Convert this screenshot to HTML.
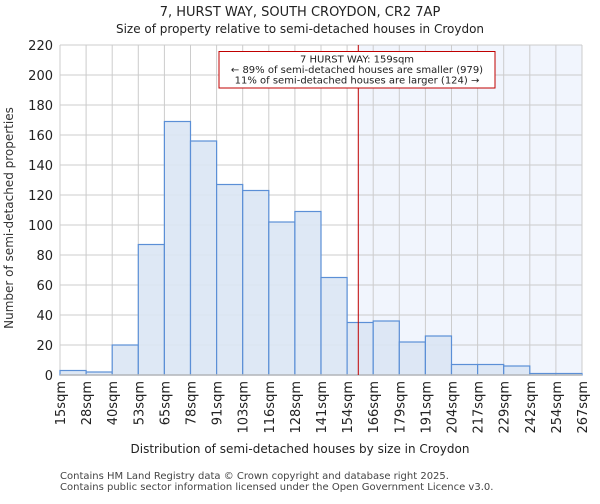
<!DOCTYPE html>
<html><head><meta charset="utf-8"><style>
body{margin:0;background:#fff;font-family:"DejaVu Sans","Liberation Sans",sans-serif;}
</style></head><body>
<svg id="c" width="600" height="500" xmlns="http://www.w3.org/2000/svg" font-family="DejaVu Sans, Liberation Sans, sans-serif">
<text x="300" y="16" text-anchor="middle" font-size="13" fill="#222">7, HURST WAY, SOUTH CROYDON, CR2 7AP</text>
<text x="300" y="33" text-anchor="middle" font-size="12" fill="#222">Size of property relative to semi-detached houses in Croydon</text>
<g id="g"></g>
<text x="300" y="453" text-anchor="middle" font-size="12" fill="#222">Distribution of semi-detached houses by size in Croydon</text>
<text transform="translate(13,218) rotate(-90)" text-anchor="middle" font-size="12" fill="#333">Number of semi-detached properties</text>
<text x="60" y="479" font-size="10" fill="#444">Contains HM Land Registry data © Crown copyright and database right 2025.</text>
<text x="60" y="490" font-size="10" fill="#444">Contains public sector information licensed under the Open Government Licence v3.0.</text>
</svg>
<script>
const categories=["15sqm","28sqm","40sqm","53sqm","65sqm","78sqm","91sqm","103sqm","116sqm","128sqm","141sqm","154sqm","166sqm","179sqm","191sqm","204sqm","217sqm","229sqm","242sqm","254sqm","267sqm"];
const values=[3,2,20,87,169,156,127,123,102,109,65,35,36,22,26,7,7,6,1,1];
const yTicks=[0,20,40,60,80,100,120,140,160,180,200,220];
const marker=159;
const edges=[15,27.6,40.2,52.8,65.4,78,90.6,103.2,115.8,128.4,141,153.6,166.2,178.8,191.4,204,216.6,229.2,241.8,254.4,267];
const X0=60,X1=582,Y0=375,Y1=45,YMAX=220;
const n=values.length,bw=(X1-X0)/n;
const xb=i=>X0+i*bw;
const y=v=>Y0-(v/YMAX)*(Y0-Y1);
const xv=v=>{for(let i=0;i<n;i++){if(v<=edges[i+1])return xb(i)+(v-edges[i])/(edges[i+1]-edges[i])*bw;}return X1;};
const g=document.getElementById('g');const NS="http://www.w3.org/2000/svg";
function mk(t,a){const e=document.createElementNS(NS,t);for(const k in a)e.setAttribute(k,a[k]);g.appendChild(e);return e;}
const mx=xv(marker);
let e=mk('rect',{x:mx,y:Y1,width:X1-mx,height:Y0-Y1,fill:'#f1f5fd'});


yTicks.forEach(t=>{let l=mk('line',{x1:X0,x2:X1,y1:y(t),y2:y(t),stroke:'#cccccc','stroke-width':1});


let tx=mk('text',{x:X0-7,y:y(t)+5,'text-anchor':'end','font-size':13,fill:'#222'});tx.textContent=t;

});
categories.forEach((c,i)=>{const x=xb(i);let l=mk('line',{x1:x,x2:x,y1:Y1,y2:Y0,stroke:'#cccccc','stroke-width':1});


let tx=mk('text',{transform:`translate(${x+5},381) rotate(-90)`,'text-anchor':'end','font-size':13,fill:'#222'});tx.textContent=c;

});
values.forEach((v,i)=>{let r=mk('rect',{x:xb(i),y:y(v),width:bw,height:Y0-y(v),fill:'#dae5f4',stroke:'#5b8fd6','stroke-width':1.2,'fill-opacity':0.9});

});
let ax=mk('line',{x1:X0,x2:X1,y1:Y0,y2:Y0,stroke:'#bbb','stroke-width':1.5});


let ml=mk('line',{x1:mx,x2:mx,y1:Y1,y2:Y0,stroke:'#c00000','stroke-width':1});


let bx=mk('rect',{x:219,y:51.5,width:276,height:36.5,fill:'#fff',stroke:'#c00000','stroke-width':1});


["7 HURST WAY: 159sqm","← 89% of semi-detached houses are smaller (979)","11% of semi-detached houses are larger (124) →"].forEach((s,i)=>{let t=mk('text',{x:357,y:62.5+i*10.5,'text-anchor':'middle','font-size':10,fill:'#222'});t.textContent=s;

});
</script>
</body></html>
